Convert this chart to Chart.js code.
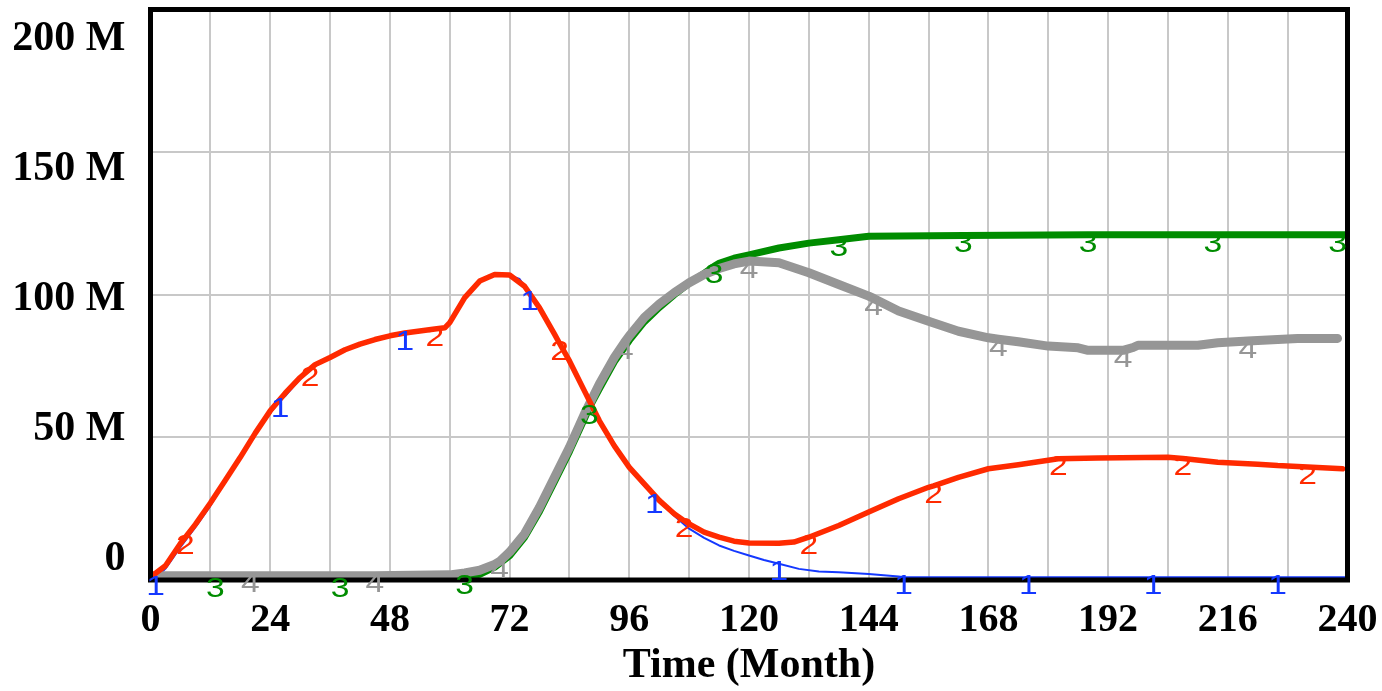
<!DOCTYPE html>
<html>
<head>
<meta charset="utf-8">
<script src="https://cdn.jsdelivr.net/npm/chart.js@4.4.0/dist/chart.umd.min.js"></script>
<style>
  html, body { margin: 0; padding: 0; background: #fff; }
  #chart { display: block; }
</style>
</head>
<body>
<canvas id="chart" width="1382" height="691"></canvas>
<script>
// axis ticks
const xGrid = [0, 12, 24, 36, 48, 60, 72, 84, 96, 108, 120, 132, 144, 156, 168, 180, 192, 204, 216, 228, 240];
const xLabels = [0, 24, 48, 72, 96, 120, 144, 168, 192, 216, 240];
const yTicks = [0, 50, 100, 150, 200];
const yLabels = ['0', '50 M', '100 M', '150 M', '200 M'];

// series 1 (blue)
const s1Time = [0, 1, 3, 6, 9, 12, 15, 18, 21, 24, 26, 27, 30, 33, 36, 39, 42, 45, 48, 51, 54, 57, 59, 60, 63, 66, 69, 72, 74, 76, 78, 81, 84, 87, 90, 93, 96, 99, 101, 102, 105, 108, 111, 114, 117, 120, 123, 126, 130, 134, 138, 144, 150, 151, 160, 176, 201, 226, 240];
const s1Vals = [0, 0.5, 4, 11.5, 18.5, 26, 34.5, 42.5, 51, 58.5, 63, 64.5, 70.5, 75, 78, 80.5, 82.5, 84.2, 85.5, 86.5, 87.2, 87.8, 88.2, 90, 98.5, 104.5, 107, 106.8, 105.5, 100.5, 95, 86, 76.5, 66, 55.5, 46.5, 39, 33, 29.5, 27.5, 22.5, 18, 14.8, 12.1, 10.2, 8.6, 7, 5.7, 3.9, 3, 2.7, 2.1, 1.2, 1, 1, 1, 1, 1, 1];
const s1Markers = [1, 26, 51, 76, 101, 126, 151, 176, 201, 226];

// series 2 (red)
const s2Time = [0, 3, 6, 7, 9, 12, 15, 18, 21, 24, 27, 30, 32, 33, 36, 39, 42, 45, 48, 51, 54, 57, 59, 60, 63, 66, 69, 72, 75, 78, 81, 82, 84, 87, 90, 93, 96, 99, 102, 105, 107, 108, 111, 114, 117, 120, 126, 129, 132, 138, 144, 150, 156, 157, 162, 168, 174, 180, 182, 190, 204, 207, 214, 222, 226, 232, 239];
const s2Vals = [1, 5, 12.8, 15, 19.5, 27, 35, 43, 51.5, 59.3, 65.5, 71, 74, 75.5, 78, 80.7, 82.7, 84.3, 85.6, 86.6, 87.3, 88, 88.4, 90.2, 99, 104.8, 107.1, 106.9, 103, 95.4, 86.2, 83, 76.8, 66.3, 55.8, 47, 39.5, 33.7, 27.9, 23.2, 20.8, 19.7, 16.8, 15, 13.6, 13, 12.9, 13.3, 15, 19.1, 23.8, 28.5, 32.5, 33, 36, 39, 40.4, 42, 42.5, 42.8, 43, 42.6, 41.3, 40.6, 40.1, 39.6, 39];
const s2Markers = [7, 32, 57, 82, 107, 132, 157, 182, 207, 232];

// series 3 (green)
const s3Time = [0, 13, 38, 60, 62, 63, 66, 69, 72, 75, 78, 81, 84, 87, 88, 90, 93, 96, 99, 102, 105, 108, 111, 113, 114, 117, 120, 126, 132, 138, 144, 163, 188, 213, 238, 240];
const s3Vals = [0, 0, 0, 0, 0.5, 1, 2, 4.5, 8.5, 15, 24, 34.5, 45, 56.5, 60.5, 67, 76.5, 84, 90.5, 95.5, 100, 104, 107.5, 110, 111, 112.8, 114, 116.4, 118.1, 119.3, 120.5, 120.8, 121, 121, 121, 121];
const s3Markers = [13, 38, 63, 88, 113, 138, 163, 188, 213, 238];

// series 4 (gray)
const s4Time = [0, 20, 45, 60, 63, 66, 69, 70, 72, 75, 78, 81, 84, 87, 90, 93, 95, 96, 99, 102, 105, 108, 111, 114, 117, 120, 126, 132, 138, 144, 145, 150, 156, 162, 168, 170, 174, 180, 186, 188, 195, 197, 198, 210, 214, 220, 222, 230, 238];
const s4Vals = [1.5, 1.5, 1.5, 1.8, 2.5, 3.4, 5.5, 6.5, 9.8, 16.2, 25.5, 36, 46.5, 58.2, 68.7, 78, 83.2, 85.6, 92, 96.7, 100.7, 104.2, 107.1, 109.2, 110.8, 111.8, 111.2, 107.7, 103.6, 99.5, 98.7, 94.3, 90.7, 87.2, 84.9, 84.4, 83.5, 82, 81.4, 80.5, 80.5, 81.5, 82.3, 82.3, 83.2, 83.8, 84, 84.7, 84.7];
const s4Markers = [20, 45, 70, 95, 120, 145, 170, 195, 220];

function points(times, vals) {
    return times.map((t, i) => ({ x: t, y: vals[i] * 1e6 }));
}

// black frame round the plot, then the Vensim style series numbers
const frameAndMarkers = {
    id: 'frameAndMarkers',
    afterDatasetsDraw(chart) {
        const { ctx, chartArea: a } = chart;
        ctx.save();
        ctx.strokeStyle = '#000';
        ctx.lineWidth = 5;
        ctx.strokeRect(a.left, a.top, a.right - a.left, a.bottom - a.top);
        ctx.font = '28px "Liberation Sans", Arial, sans-serif';
        ctx.textAlign = 'center';
        ctx.textBaseline = 'middle';
        chart.data.datasets.forEach((ds, i) => {
            const meta = chart.getDatasetMeta(i);
            ctx.fillStyle = ds.borderColor;
            ds.markerTimes.forEach(t => {
                const idx = ds.data.findIndex(p => p.x === t);
                const pt = meta.data[idx];
                if (!pt) return;
                ctx.save();
                ctx.translate(pt.x, pt.y + 9);
                ctx.scale(1.2, 1);
                ctx.fillText(ds.marker, 0, 0);
                ctx.restore();
            });
        });
        ctx.restore();
    }
};

const noPad = s => { s.paddingTop = 0; s.paddingBottom = 0; s.paddingLeft = 0; s.paddingRight = 0; };

const lineBase = { pointRadius: 0, tension: 0, borderJoinStyle: 'round', borderCapStyle: 'round', fill: false };

Chart.defaults.font.family = '"Liberation Serif", "Times New Roman", serif';
Chart.defaults.color = '#000';

new Chart(document.getElementById('chart'), {
    type: 'line',
    data: {
        datasets: [
            { ...lineBase, data: points(s1Time, s1Vals), borderColor: '#1438ff', borderWidth: 2, order: 4, marker: '1', markerTimes: s1Markers },
            { ...lineBase, data: points(s2Time, s2Vals), borderColor: '#ff2a00', borderWidth: 5.5, order: 1, marker: '2', markerTimes: s2Markers },
            { ...lineBase, data: points(s3Time, s3Vals), borderColor: '#008c00', borderWidth: 7, order: 3, marker: '3', markerTimes: s3Markers },
            { ...lineBase, data: points(s4Time, s4Vals), borderColor: '#969696', borderWidth: 9, order: 2, marker: '4', markerTimes: s4Markers }
        ]
    },
    options: {
        responsive: false,
        animation: false,
        layout: { padding: { top: 9.5, right: 34.5, left: 0, bottom: 0 } },
        plugins: { legend: { display: false }, tooltip: { enabled: false } },
        scales: {
            x: {
                type: 'linear',
                min: 0,
                max: 240,
                afterBuildTicks: s => { s.ticks = xGrid.map(v => ({ value: v })); },
                afterFit: s => { s.height = 111; noPad(s); },
                grid: { color: '#c8c8c8', lineWidth: 2, drawTicks: false },
                border: { display: false },
                ticks: {
                    autoSkip: false,
                    maxRotation: 0,
                    padding: 17,
                    font: { size: 40, weight: 'bold' },
                    callback: v => xLabels.includes(v) ? String(v) : ''
                },
                title: {
                    display: true,
                    text: 'Time (Month)',
                    font: { size: 42, weight: 'bold', lineHeight: 1.2 },
                    padding: { top: 0, bottom: 0 }
                }
            },
            y: {
                min: 0,
                max: 200e6,
                afterBuildTicks: s => { s.ticks = yTicks.map(v => ({ value: v * 1e6 })); },
                afterFit: s => { s.width = 0; noPad(s); },
                grid: { color: '#c8c8c8', lineWidth: 2, drawTicks: false },
                border: { display: false },
                ticks: { display: false }
            },
            yl: {
                position: 'left',
                min: -8.08e6,
                max: 211.35e6,
                afterBuildTicks: s => { s.ticks = yTicks.map(v => ({ value: v * 1e6 })); },
                afterFit: s => { s.width = 150.5; noPad(s); },
                grid: { display: false, drawTicks: false },
                border: { display: false },
                ticks: {
                    padding: 25,
                    font: { size: 42, weight: 'bold' },
                    callback: v => yLabels[yTicks.indexOf(Math.round(v / 1e6))]
                }
            }
        }
    },
    plugins: [frameAndMarkers]
});
</script>
</body>
</html>
